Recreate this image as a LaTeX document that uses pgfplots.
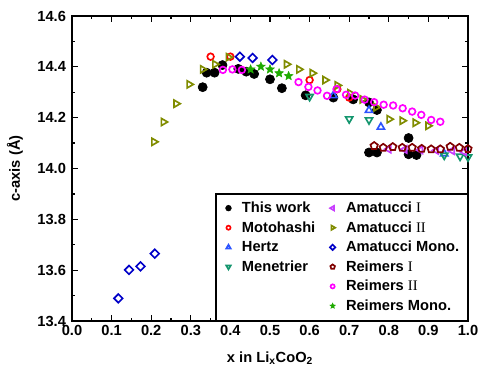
\documentclass[border=0pt]{standalone}
\usepackage{fontspec}
\setmainfont{Liberation Sans}
\newfontfamily\rmn{Liberation Serif}
\usepackage{pgfplots}
\pgfplotsset{compat=1.18}
\usetikzlibrary{calc,plotmarks}
\definecolor{cHertz}{RGB}{45,85,255}
\definecolor{cMen}{RGB}{20,150,110}
\definecolor{cAmI}{RGB}{200,60,255}
\definecolor{cAmII}{RGB}{128,140,0}
\definecolor{cAmM}{RGB}{0,0,200}
\definecolor{cReI}{RGB}{128,0,0}
\definecolor{cReII}{RGB}{255,0,255}
\definecolor{cReM}{RGB}{30,170,0}
\pgfdeclareplotmark{fstar}{%
  \pgfpathmoveto{\pgfpointpolar{90}{\pgfplotmarksize}}%
  \pgfpathlineto{\pgfpointpolar{126}{0.45\pgfplotmarksize}}%
  \pgfpathlineto{\pgfpointpolar{162}{\pgfplotmarksize}}%
  \pgfpathlineto{\pgfpointpolar{198}{0.45\pgfplotmarksize}}%
  \pgfpathlineto{\pgfpointpolar{234}{\pgfplotmarksize}}%
  \pgfpathlineto{\pgfpointpolar{270}{0.45\pgfplotmarksize}}%
  \pgfpathlineto{\pgfpointpolar{306}{\pgfplotmarksize}}%
  \pgfpathlineto{\pgfpointpolar{342}{0.45\pgfplotmarksize}}%
  \pgfpathlineto{\pgfpointpolar{18}{\pgfplotmarksize}}%
  \pgfpathlineto{\pgfpointpolar{54}{0.45\pgfplotmarksize}}%
  \pgfpathclose\pgfusepathqfillstroke}
\begin{document}
\begin{tikzpicture}
\begin{axis}[
  scale only axis, width=297pt, height=228.75pt,
  xmin=0, xmax=1, ymin=13.4, ymax=14.6,
  xtick distance=0.1, ytick distance=0.2,
  minor x tick num=1, minor y tick num=1,
  tick align=inside, major tick length=4.5pt, minor tick length=2.5pt,
  axis line style={line width=1.1pt}, every tick/.style={line width=0.9pt, black},
  /pgf/number format/.cd, fixed, fixed zerofill, precision=1, assume math mode=true,
  /pgfplots/.cd,
  tick label style={font=\bfseries\fontsize{11}{13}\selectfont},
  yticklabel style={xshift=-1pt},
  label style={font=\bfseries\fontsize{11}{13}\selectfont},
  xlabel={x in Li\textsubscript{x}CoO\textsubscript{2}},
  xlabel style={yshift=-5pt},
  ylabel={c-axis (Å)},
  ylabel style={yshift=4pt},
  legend columns=6, transpose legend,
  legend cell align=left,
  legend style={at={(1,0)}, anchor=south east, draw=black, line width=1.1pt,
    font=\bfseries\fontsize{11}{13}\selectfont, row sep=1.2pt,
    inner xsep=4pt, inner ysep=4pt,
    /tikz/every even column/.append style={column sep=9pt},
    /tikz/every odd column/.append style={column sep=6pt}},
  legend image post style={scale=0.62},
  every axis plot/.append style={only marks, line width=1.25pt},
]
\addplot[black, mark=*, mark size=3.4pt, line width=0.5pt] coordinates {
(0.33,14.320) (0.34,14.377) (0.36,14.377) (0.38,14.407) (0.42,14.392)
(0.44,14.381) (0.46,14.372) (0.50,14.351) (0.53,14.316) (0.59,14.288)
(0.66,14.279) (0.71,14.272) (0.75,14.260) (0.77,14.230) (0.75,14.063)
(0.77,14.063) (0.85,14.120) (0.85,14.056) (0.87,14.053)};
\addlegendentry{This work}
\addplot[red, mark=o, mark size=2.5pt] coordinates {
(0.35,14.440) (0.40,14.440) (0.60,14.348) (0.67,14.312) (0.70,14.279)};
\addlegendentry{Motohashi}
\addplot[cHertz, mark=triangle, mark size=3.1pt] coordinates {
(0.66,14.287) (0.75,14.229) (0.78,14.163) (0.94,14.058)};
\addlegendentry{Hertz}
\addplot[cMen, mark=triangle, mark size=3.1pt, mark options={rotate=180}] coordinates {
(0.60,14.283) (0.70,14.195) (0.75,14.191) (0.94,14.052) (0.98,14.048) (1.00,14.045)};
\addlegendentry{Menetrier}
\addlegendimage{empty legend}\addlegendentry{}
\addlegendimage{empty legend}\addlegendentry{}
\addplot[cAmI, mark=triangle, mark size=3.1pt, mark options={rotate=90}] coordinates {
(0.80,14.076) (0.84,14.075) (0.88,14.073) (0.92,14.071) (0.96,14.070) (0.99,14.066)};
\addlegendentry{Amatucci {\rmn\mdseries I}}
\addplot[cAmII, mark=triangle, mark size=3.1pt, mark options={rotate=-90}] coordinates {
(0.207,14.105) (0.231,14.183) (0.263,14.255) (0.296,14.331) (0.330,14.390)
(0.361,14.410) (0.395,14.438) (0.542,14.410) (0.573,14.390) (0.607,14.375)
(0.639,14.348) (0.670,14.327) (0.702,14.296) (0.733,14.272) (0.768,14.241)
(0.801,14.194) (0.834,14.188) (0.867,14.180) (0.899,14.168)};
\addlegendentry{Amatucci {\rmn\mdseries II}}
\addplot[cAmM, mark=square, mark size=2.3pt, mark options={rotate=45}] coordinates {
(0.117,13.489) (0.144,13.601) (0.173,13.615) (0.209,13.665)
(0.424,14.440) (0.456,14.435) (0.506,14.427)};
\addlegendentry{Amatucci Mono.}
\addplot[cReI, mark=pentagon, mark size=2.9pt] coordinates {
(0.763,14.089) (0.786,14.082) (0.810,14.085) (0.834,14.082) (0.859,14.082)
(0.883,14.078) (0.907,14.076) (0.930,14.076) (0.955,14.086) (0.978,14.082) (1.000,14.077)};
\addlegendentry{Reimers {\rmn\mdseries I}}
\addplot[cReII, mark=o, mark size=2.5pt] coordinates {
(0.381,14.388) (0.405,14.390) (0.429,14.388) (0.572,14.340) (0.597,14.321)
(0.620,14.307) (0.644,14.286) (0.668,14.312) (0.692,14.290) (0.715,14.287)
(0.739,14.271) (0.763,14.261) (0.787,14.251) (0.811,14.248) (0.835,14.237)
(0.859,14.224) (0.882,14.211) (0.907,14.191) (0.930,14.184)};
\addlegendentry{Reimers {\rmn\mdseries II}}
\addplot[cReM, fill=cReM, mark=fstar, mark size=3.4pt, line width=0.4pt] coordinates {
(0.451,14.390) (0.477,14.401) (0.500,14.390) (0.523,14.375) (0.547,14.364)};
\addlegendentry{Reimers Mono.}
\end{axis}
\pgfresetboundingbox
\path[use as bounding box] ($(current axis.south west)+(-54pt,-44.25pt)$) rectangle ($(current axis.north east)+(12.75pt,12pt)$);
\end{tikzpicture}
\end{document}
